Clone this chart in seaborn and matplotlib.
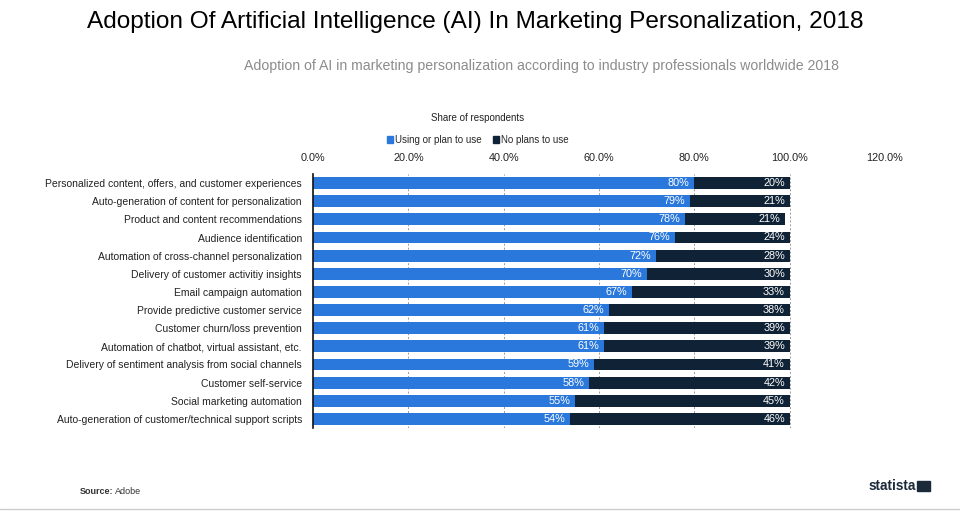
import pandas as pd
import matplotlib.pyplot as plt
import seaborn as sns

categories = [
    "Personalized content, offers, and customer experiences",
    "Auto-generation of content for personalization",
    "Product and content recommendations",
    "Audience identification",
    "Automation of cross-channel personalization",
    "Delivery of customer activitiy insights",
    "Email campaign automation",
    "Provide predictive customer service",
    "Customer churn/loss prevention",
    "Automation of chatbot, virtual assistant, etc.",
    "Delivery of sentiment analysis from social channels",
    "Customer self-service",
    "Social marketing automation",
    "Auto-generation of customer/technical support scripts",
]
using = [80, 79, 78, 76, 72, 70, 67, 62, 61, 61, 59, 58, 55, 54]
no_plans = [20, 21, 21, 24, 28, 30, 33, 38, 39, 39, 41, 42, 45, 46]
x_ticks = [0, 20, 40, 60, 80, 100, 120]

blue = "#2a78dc"
navy = "#0f2236"

df = pd.DataFrame({"category": categories, "using": using, "no_plans": no_plans})
df["total"] = df["using"] + df["no_plans"]

sns.set_style("white")
plt.rcParams["font.family"] = ["Liberation Sans", "DejaVu Sans"]

fig = plt.figure(figsize=(9.6, 5.13), dpi=100)
ax = fig.add_axes([313 / 960, 1 - 428 / 513, (885 - 313) / 960, (428 - 174) / 513])

# stacked bars: full total in navy, blue share drawn on top
sns.barplot(data=df, y="category", x="total", color=navy, width=0.66, ax=ax,
            orient="h", saturation=1, linewidth=0)
sns.barplot(data=df, y="category", x="using", color=blue, width=0.66, ax=ax,
            orient="h", saturation=1, linewidth=0)

for i, (u, n) in enumerate(zip(using, no_plans)):
    ax.text(u - 1, i, f"{u}%", color="white", ha="right", va="center", fontsize=7.8)
    ax.text(u + n - 1, i, f"{n}%", color="white", ha="right", va="center", fontsize=7.8)

ax.set_xlim(0, 120)
ax.set_ylim(13.5, -0.5)
ax.set_xticks(x_ticks)
ax.set_xticklabels([f"{t:.1f}%" for t in x_ticks], fontsize=7.8, color="#222222")
ax.xaxis.tick_top()
ax.tick_params(axis="x", length=0, pad=8)
ax.tick_params(axis="y", length=0, pad=8, labelsize=7.5, labelcolor="#222222")
ax.set_xlabel("")
ax.set_ylabel("")
for t in x_ticks[1:]:
    ax.axvline(t, color="#999999", lw=0.7, ls=(0, (2, 2)), zorder=0)
for s in ["top", "right", "bottom"]:
    ax.spines[s].set_visible(False)
ax.spines["left"].set_color("#111111")
ax.spines["left"].set_linewidth(1.2)

fig.text(0.495, 1 - 22 / 513, "Adoption Of Artificial Intelligence (AI) In Marketing Personalization, 2018",
         ha="center", va="center", fontsize=17.6, color="black")
fig.text(0.564, 1 - 66 / 513, "Adoption of AI in marketing personalization according to industry professionals worldwide 2018",
         ha="center", va="center", fontsize=10.2, color="#8c8c8c")
fig.text(478 / 960, 1 - 118 / 513, "Share of respondents", ha="center", va="center", fontsize=7, color="#222222")

handles = [plt.Rectangle((0, 0), 1, 1, color=blue), plt.Rectangle((0, 0), 1, 1, color=navy)]
fig.legend(handles, ["Using or plan to use", "No plans to use"], loc="center",
           bbox_to_anchor=(478 / 960, 1 - 140 / 513), ncol=2, frameon=False, fontsize=7,
           handlelength=0.6, handleheight=0.6, handletextpad=0.2, columnspacing=1.2)

fig.text(80 / 960, 1 - 491 / 513, "Source:", ha="left", va="center", fontsize=6.5, fontweight="bold", color="#333333")
fig.text(115 / 960, 1 - 491 / 513, "Adobe", ha="left", va="center", fontsize=6.5, color="#333333")
fig.text(869 / 960, 1 - 486 / 513, "statista", ha="left", va="center", fontsize=9.8, fontweight="bold", color="#1b2a3a")
fig.add_artist(plt.Rectangle((917 / 960, 1 - 491 / 513), 13 / 960, 10 / 513, color="#1b2a3a"))
fig.add_artist(plt.Line2D([0, 1], [1 - 509 / 513, 1 - 509 / 513], color="#cccccc", lw=1))

fig.savefig("out.png", dpi=100)
